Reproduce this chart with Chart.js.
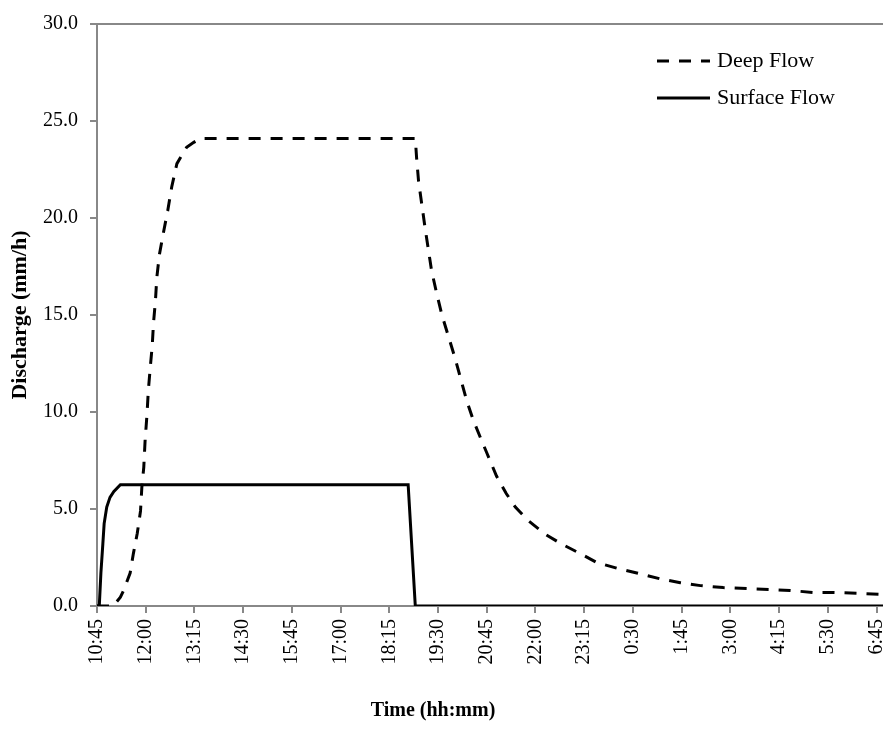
<!DOCTYPE html>
<html><head><meta charset="utf-8">
<script src="https://cdn.jsdelivr.net/npm/chart.js@4.4.1/dist/chart.umd.min.js"></script>
<style>html,body{margin:0;padding:0;background:#fff}#wrap{width:883px;height:738px;position:relative}</style>
</head><body><div id="wrap"><canvas id="c" width="883" height="738"></canvas></div>
<script>
// x tick labels, every 75 minutes starting at 10:45
const xTickLabels = ["10:45","12:00","13:15","14:30","15:45","17:00","18:15","19:30","20:45","22:00","23:15","0:30","1:45","3:00","4:15","5:30","6:45"];
// minutes after 10:45
const deepTime = [0, 25, 36, 41, 51, 56, 62, 67, 69, 72, 74, 77, 79, 82, 85, 87, 90, 92, 96, 102, 109, 115, 123, 138, 149, 159, 490, 492, 495, 500, 505, 510, 515, 523, 531, 541, 551, 569, 579, 590, 600, 615, 630, 644, 664, 690, 715, 744, 769, 800, 831, 867, 898, 929, 964, 1000, 1036, 1067, 1102, 1133, 1174, 1210];
const deepFlow = [0, 0, 0.45, 0.8, 1.7, 2.7, 3.75, 4.9, 6.1, 7.15, 8.5, 9.9, 11.1, 12.3, 13.4, 14.6, 15.75, 16.9, 18.1, 19.2, 20.4, 21.6, 22.8, 23.65, 23.9, 24.1, 24.1, 23.1, 21.9, 20.7, 19.5, 18.4, 17.3, 16.1, 15.0, 13.9, 12.8, 10.6, 9.6, 8.7, 7.9, 6.7, 5.8, 5.1, 4.4, 3.7, 3.2, 2.7, 2.25, 1.95, 1.7, 1.4, 1.2, 1.05, 0.95, 0.9, 0.85, 0.8, 0.7, 0.7, 0.65, 0.6];
const surfTime = [0, 3.5, 6, 9, 11, 15, 20, 26, 36, 479, 490, 1210];
const surfFlow = [0, 0, 1.7, 3.2, 4.25, 5.1, 5.6, 5.9, 6.25, 6.25, 0, 0];
const seriesNames = ["Deep Flow", "Surface Flow"];
const yTitle = "Discharge (mm/h)";
const xTitle = "Time (hh:mm)";

const SERIF = "'Liberation Serif', 'Times New Roman', serif";
const GRAY = '#888888';
const toPts = (t, v) => t.map((x, i) => ({x: x, y: v[i]}));

const overlay = {
  id: 'overlay',
  afterDraw(chart) {
    const ctx = chart.ctx;
    ctx.save();
    // legend
    const rows = [{y: 61}, {y: 98}];
    chart.data.datasets.forEach((ds, i) => {
      const r = rows[i];
      ctx.strokeStyle = ds.borderColor;
      ctx.lineWidth = 3;
      ctx.setLineDash(ds.borderDash || []);
      ctx.beginPath();
      ctx.moveTo(657, r.y);
      ctx.lineTo(710, r.y);
      ctx.stroke();
      ctx.setLineDash([]);
      ctx.fillStyle = '#000';
      ctx.font = '22px ' + SERIF;
      ctx.textAlign = 'left';
      ctx.textBaseline = 'middle';
      ctx.fillText(ds.label, 717, r.y);
    });
    // x axis title
    ctx.font = 'bold 20px ' + SERIF;
    ctx.textAlign = 'center';
    ctx.textBaseline = 'middle';
    ctx.fillText(xTitle, 433, 711);
    ctx.restore();
  }
};

new Chart(document.getElementById('c'), {
  type: 'line',
  data: {
    datasets: [
      {label: seriesNames[0], data: toPts(deepTime, deepFlow), borderColor: '#000', borderWidth: 3, borderDash: [12, 10], pointRadius: 0, tension: 0, fill: false},
      {label: seriesNames[1], data: toPts(surfTime, surfFlow), borderColor: '#000', borderWidth: 3, pointRadius: 0, tension: 0, fill: false}
    ]
  },
  options: {
    responsive: false,
    animation: false,
    events: [],
    layout: {padding: {top: 24, left: 0, right: 0, bottom: 0}, autoPadding: false},
    plugins: {legend: {display: false}, tooltip: {enabled: false}},
    scales: {
      x: {
        type: 'linear', min: 0, max: 1210,
        ticks: {
          stepSize: 75, includeBounds: false, autoSkip: false, minRotation: 90, maxRotation: 90, padding: 6,
          color: '#000', font: {family: SERIF, size: 20},
          callback: (v) => { const k = Math.round(v / 75); return (Math.abs(v - k * 75) < 0.01 && xTickLabels[k] !== undefined) ? xTickLabels[k] : ''; }
        },
        grid: {drawOnChartArea: false, tickLength: 7, tickColor: GRAY, color: GRAY, lineWidth: 2},
        border: {color: GRAY, width: 2},
        afterFit: (s) => { s.height = 132; s.paddingLeft = 0; s.paddingRight = 0; }
      },
      y: {
        min: 0, max: 30,
        ticks: {stepSize: 5, padding: 12, color: '#000', font: {family: SERIF, size: 20}, callback: (v) => Number(v).toFixed(1)},
        grid: {color: (c) => (c.tick && c.tick.value === 30) ? GRAY : 'rgba(0,0,0,0)', tickColor: GRAY, tickLength: 7, lineWidth: 2},
        border: {color: GRAY, width: 2},
        title: {display: true, text: yTitle, color: '#000', font: {family: SERIF, size: 22, weight: 'bold'}, padding: {top: 7, bottom: 0}},
        afterFit: (s) => { s.width = 97; s.paddingTop = 0; s.paddingBottom = 0; }
      }
    }
  },
  plugins: [overlay]
});
</script>
</body></html>
